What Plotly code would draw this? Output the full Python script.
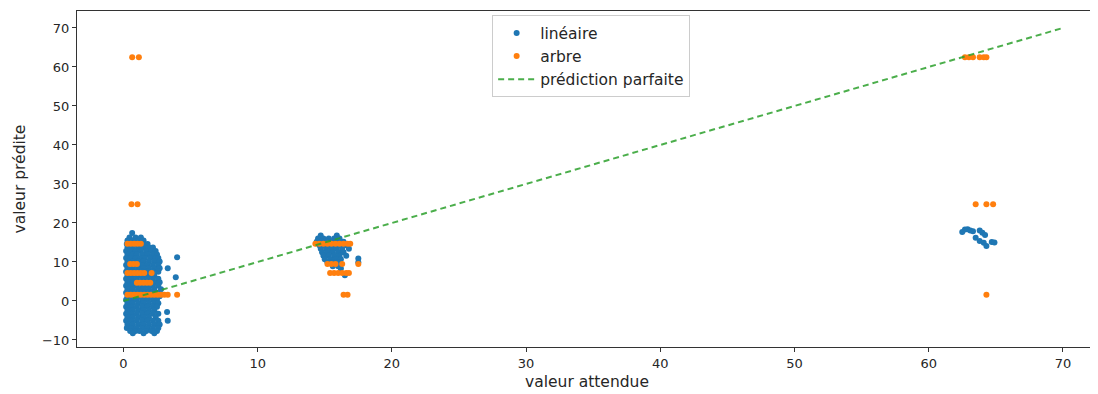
import plotly.graph_objects as go

# ---------------- data ----------------
# linear model predictions: rows of (predicted value, [expected values])
lin_rows_c1 = [
    (17.4, [0.65]),
    (16.3, [0.45, 0.9, 1.3]),
    (15.5, [0.3, 0.7, 1.1, 1.5]),
    (14.6, [0.25, 0.6, 1.0, 1.4, 1.8]),
    (13.7, [0.3, 0.7, 1.1, 1.5, 1.9, 2.2]),
    (12.8, [0.2, 0.55, 0.9, 1.3, 1.7, 2.1, 2.4]),
    (11.9, [0.3, 0.7, 1.0, 1.4, 1.8, 2.2, 2.5]),
    (11.2, [4.0]),
    (11.0, [0.2, 0.55, 0.9, 1.3, 1.6, 2.0, 2.4, 2.6]),
    (10.1, [0.3, 0.7, 1.1, 1.5, 1.9, 2.3, 2.7]),
    (9.2, [0.2, 0.6, 1.0, 1.4, 1.8, 2.2, 2.6]),
    (8.4, [0.3, 0.7, 1.1, 1.5, 1.9, 2.3, 2.7, 3.3]),
    (7.5, [0.2, 0.6, 1.0, 1.4, 1.8, 2.2, 2.6]),
    (6.6, [0.3, 0.7, 1.1, 1.5, 1.9, 2.3]),
    (6.1, [3.9]),
    (5.7, [0.2, 0.6, 1.0, 1.4, 1.8, 2.2, 2.6]),
    (4.8, [0.3, 0.7, 1.1, 1.5, 1.9, 2.3, 2.7]),
    (3.9, [0.2, 0.6, 1.0, 1.4, 1.8, 2.2, 2.6]),
    (3.0, [0.3, 0.7, 1.1, 1.5, 1.9, 2.3, 2.8]),
    (2.1, [0.2, 0.6, 1.0, 1.4, 1.8, 2.2, 2.6]),
    (1.2, [0.3, 0.7, 1.1, 1.5, 1.9, 2.3, 2.7]),
    (0.3, [0.2, 0.6, 1.0, 1.4, 1.8, 2.2, 2.5]),
    (-0.6, [0.3, 0.7, 1.1, 1.5, 1.9, 2.3, 2.6]),
    (-1.5, [0.2, 0.6, 1.0, 1.4, 1.8, 2.2, 2.5]),
    (-2.4, [0.3, 0.7, 1.1, 1.5, 1.9, 2.3]),
    (-2.8, [3.25]),
    (-3.3, [0.2, 0.6, 1.0, 1.4, 1.8, 2.2, 2.6]),
    (-4.2, [0.3, 0.7, 1.1, 1.5, 1.9, 2.4]),
    (-5.1, [0.2, 0.6, 1.0, 1.4, 1.8, 2.2, 2.6, 3.3]),
    (-6.0, [0.3, 0.7, 1.1, 1.5, 1.9, 2.3, 2.7]),
    (-6.9, [0.25, 0.6, 1.0, 1.4, 1.8, 2.2, 2.6]),
    (-7.7, [0.5, 0.9, 1.2, 1.7, 2.1, 2.5]),
    (-8.3, [0.7, 1.5, 2.3]),
]
lin_rows_c2 = [
    (16.8, [14.7, 15.9]),
    (16.0, [14.5, 14.9, 15.3, 15.7, 16.1]),
    (15.2, [14.4, 14.8, 15.2, 15.6, 16.0, 16.4]),
    (14.3, [14.6, 15.0, 15.4, 15.8, 16.2, 16.6]),
    (13.4, [14.7, 15.1, 15.5, 15.9, 16.3, 16.8]),
    (12.5, [14.8, 15.2, 15.6, 16.0, 16.4]),
    (11.6, [14.9, 15.3, 15.7, 16.1, 16.6]),
    (10.9, [17.5]),
    (10.7, [15.0, 15.4, 15.8, 16.2]),
    (9.9, [15.2, 15.6, 16.0, 17.5]),
    (8.9, [15.6, 16.0]),
    (8.3, [16.2]),
    (6.6, [16.5]),
]
lin_c3_x = [62.5, 62.7, 62.9, 63.1, 63.3, 63.8, 64.0, 64.2, 63.5, 63.8, 64.1, 64.3, 64.7, 64.9]
lin_c3_y = [17.7, 18.3, 18.4, 18.1, 17.9, 18.1, 17.5, 16.9, 16.2, 15.4, 14.9, 14.1, 15.1, 15.0]

# tree model predictions: rows of (predicted value, [expected values])
tree_rows = [
    (62.5, [0.65, 1.15, 62.7, 63.0, 63.3, 63.8, 64.1, 64.3]),
    (24.8, [0.6, 1.05, 63.5, 64.3, 64.8]),
    (14.7, [0.3, 0.55, 0.8, 1.05, 1.3,
            14.3, 14.6, 14.9, 15.2, 15.5, 15.8, 16.1, 16.4, 16.7, 16.9]),
    (9.5, [0.5, 0.75, 1.0, 15.2, 15.5, 15.8, 16.3, 17.5]),
    (7.2, [0.3, 0.55, 0.8, 1.05, 1.3, 1.55, 2.1,
           15.4, 15.7, 16.0, 16.3, 16.6, 16.8]),
    (4.7, [1.0, 1.25, 1.5, 1.75, 2.0]),
    (1.6, [0.3, 0.55, 0.8, 1.05, 1.3, 1.55, 1.8, 2.05, 2.3, 2.55, 2.8,
           3.05, 3.3, 4.0, 16.4, 16.7, 64.3]),
]

perfect_x = [0, 70]
perfect_y = [0, 70]

x_ticks = [0, 10, 20, 30, 40, 50, 60, 70]
y_ticks = [-10, 0, 10, 20, 30, 40, 50, 60, 70]

# ---------------- build ----------------
lin_x, lin_y = [], []
for yv, xs in lin_rows_c1 + lin_rows_c2:
    lin_x += xs
    lin_y += [yv] * len(xs)
lin_x += lin_c3_x
lin_y += lin_c3_y

tree_x, tree_y = [], []
for yv, xs in tree_rows:
    tree_x += xs
    tree_y += [yv] * len(xs)

FONT = "DejaVu Sans"
TXT = "#262626"
fig = go.Figure()
fig.add_trace(go.Scatter(x=lin_x, y=lin_y, mode="markers", name="linéaire",
                         marker=dict(color="#1f77b4", size=6, line=dict(width=0))))
fig.add_trace(go.Scatter(x=tree_x, y=tree_y, mode="markers", name="arbre",
                         marker=dict(color="#ff7f0e", size=6, line=dict(width=0))))
fig.add_trace(go.Scatter(x=perfect_x, y=perfect_y, mode="lines", name="prédiction parfaite",
                         line=dict(color="rgba(44,160,44,0.85)", width=2, dash="6px,4px")))

axis_common = dict(showgrid=False, zeroline=False, showline=True, linecolor="#333",
                   linewidth=1, mirror=True, ticks="outside", ticklen=4, tickcolor="#333",
                   tickfont=dict(family=FONT, size=13, color=TXT))
fig.update_xaxes(range=[-3.46, 72.54], tickvals=x_ticks, **axis_common,
                 title=dict(text="valeur attendue", font=dict(family=FONT, size=15.5, color=TXT),
                            standoff=6))
fig.update_yaxes(range=[-11.8, 74.35], tickvals=y_ticks, **axis_common,
                 title=dict(text="valeur prédite", font=dict(family=FONT, size=15.5, color=TXT),
                            standoff=12))
# the page body has an 8px margin: plot area page coords 77..1097 x 11..347
fig.update_layout(
    width=1090, height=386,
    margin=dict(l=69, r=1, t=3, b=47, autoexpand=False),
    paper_bgcolor="white", plot_bgcolor="white",
    font=dict(family=FONT, size=13, color=TXT),
    legend=dict(x=0.407, y=0.987, xanchor="left", yanchor="top",
                bgcolor="white", bordercolor="#cccccc", borderwidth=1,
                itemwidth=37,
                font=dict(family=FONT, size=15.5, color=TXT)),
)
fig.write_html("out.html")
